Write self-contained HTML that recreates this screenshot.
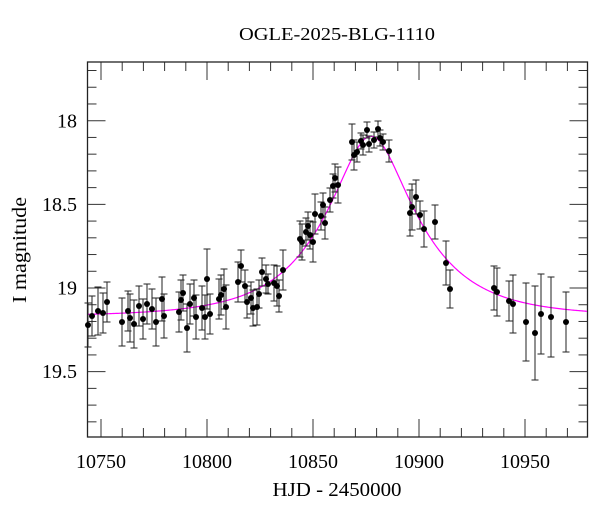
<!DOCTYPE html>
<html><head><meta charset="utf-8"><style>html,body{margin:0;padding:0;background:#fff}svg{display:block}</style></head>
<body>
<svg id="s" width="600" height="512" xmlns="http://www.w3.org/2000/svg" font-family="Liberation Serif, serif">
<rect width="600" height="512" fill="#fff"/>
<text x="337" y="40" font-size="18" text-anchor="middle" textLength="196" lengthAdjust="spacingAndGlyphs">OGLE-2025-BLG-1110</text>
<g id="ticks" stroke="#333" stroke-width="1"></g>
<rect x="87.5" y="62" width="500" height="375" fill="none" stroke="#222" stroke-width="1.3"/>
<g font-size="20" text-anchor="end">
<text x="77" y="127.5">18</text><text x="77" y="211">18.5</text><text x="77" y="294.5">19</text><text x="77" y="378">19.5</text>
</g>
<g font-size="20" text-anchor="middle">
<text x="101" y="468" textLength="50" lengthAdjust="spacingAndGlyphs">10750</text><text x="207" y="468" textLength="50" lengthAdjust="spacingAndGlyphs">10800</text><text x="313" y="468" textLength="50" lengthAdjust="spacingAndGlyphs">10850</text><text x="419" y="468" textLength="50" lengthAdjust="spacingAndGlyphs">10900</text><text x="525" y="468" textLength="50" lengthAdjust="spacingAndGlyphs">10950</text>
</g>
<text x="337" y="496" font-size="20" text-anchor="middle" textLength="129" lengthAdjust="spacingAndGlyphs">HJD - 2450000</text>
<text transform="translate(26,250) rotate(-90)" font-size="20" text-anchor="middle" textLength="106" lengthAdjust="spacingAndGlyphs">I magnitude</text>
<path id="model" fill="none" stroke="#f0f" stroke-width="1.2"/>
<g id="data"></g>
</svg>
<script>
function X(d){return 101+(d-10750)*2.12}
function Y(m){return 120.7+(m-18)*167.3}
var t=document.getElementById("ticks"),h="";
for(var d=10750;d<=10970;d+=10){var x=X(d),L=(d%50==0)?18:9;h+='<line x1="'+x+'" y1="437" x2="'+x+'" y2="'+(437-L)+'"/><line x1="'+x+'" y1="62" x2="'+x+'" y2="'+(62+L)+'"/>';}
for(var i=0;i<=22;i++){var m=17.7+i*0.1;var y=Y(m);if(y<63||y>436)continue;var L=(Math.abs(m*2-Math.round(m*2))<0.01)?18:9;h+='<line x1="87.5" y1="'+y+'" x2="'+(87.5+L)+'" y2="'+y+'"/><line x1="587.5" y1="'+y+'" x2="'+(587.5-L)+'" y2="'+y+'"/>';}
t.innerHTML=h;
var p="";
for(var x=88;x<=587;x+=1){var d=10750+(x-101)/2.12;var tau=(d-10877.4)/40;var u=Math.sqrt(0.16+tau*tau);var A=(u*u+2)/(u*Math.sqrt(u*u+4));var m=19.17-2.5*Math.log10(1+1.03*(A-1));p+=(x==88?"M":"L")+x+","+Y(m).toFixed(2);}
document.getElementById("model").setAttribute("d",p);
var pts=[[88,325,22],[92,316,20],[98,311,24],[103,313,20],[107,302,20],[122,322,24],[128,311,20],[130,318,24],[134,324,24],[139,306,20],[143,319,20],[147,304,20],[152,309,20],[156,322,24],[162,299,22],[164,316,22],[179,312,20],[181,300,20],[183,293,18],[187,328,24],[190,304,20],[194,298,18],[196,317,22],[202,308,22],[205,317,22],[207,279,30],[210,314,20],[219,299,20],[221,295,20],[224,289,20],[226,307,22],[238,282,20],[241,266,16],[245,286,16],[247,302,16],[251,298,16],[253,308,18],[257,307,18],[259,294,14],[262,272,14],[266,279,14],[268,284,10],[274,283,18],[277,286,20],[279,296,16],[283,270,20],[300,239,18],[302,242,18],[306,232,14],[308,226,14],[310,235,14],[313,242,20],[315,214,20],[321,216,14],[323,205,12],[325,223,16],[330,200,12],[333,186,12],[335,178,14],[338,185,18],[352,142,18],[354,155,15],[357,152,10],[361,141,8],[363,145,10],[367,130,8],[369,144,8],[374,140,8],[378,129,8],[380,138,8],[383,142,8],[389,151,11],[410,213,23],[412,207,23],[416,197,17],[420,215,14],[424,229,18],[435,222,17],[446,263,22],[450,289,19],[494,288,22],[497,292,24],[509,301,20],[513,304,29],[526,322,39],[535,333,47],[541,314,40],[551,317,40],[566,322,30]];
var g="";
pts.forEach(function(q){var x=q[0],y=q[1],e=q[2];g+='<path d="M'+x+','+(y-e)+'V'+(y+e)+'M'+(x-3.5)+','+(y-e)+'h7M'+(x-3.5)+','+(y+e)+'h7" stroke="#222" stroke-width="1" fill="none"/>';});
pts.forEach(function(q){g+='<circle cx="'+q[0]+'" cy="'+q[1]+'" r="3" fill="#000"/>';});
document.getElementById("data").innerHTML=g;
</script>
</body></html>
